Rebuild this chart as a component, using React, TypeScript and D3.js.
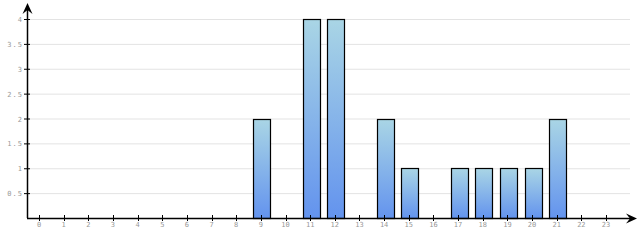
import React from "react";
import * as d3 from "d3";

const categories = Array.from({ length: 24 }, (_, i) => String(i));
const values = [0, 0, 0, 0, 0, 0, 0, 0, 0, 2, 0, 4, 4, 0, 2, 1, 0, 1, 1, 1, 1, 2, 0, 0];
const yTicks = [0.5, 1, 1.5, 2, 2.5, 3, 3.5, 4];

export default function App() {
  const W = 640, H = 240;
  const x0 = 27, y0 = 218;
  const x = d3.scaleLinear().domain([0, 23]).range([39, 606]);
  const y = d3.scaleLinear().domain([0, 4]).range([y0, 19]);
  const bw = 17;
  const fmt = (v: number) => String(v);
  return (
    <svg width={W} height={H} style={{ position: "absolute", left: 0, top: 0 }}>
      <defs>
        <linearGradient id="g" x1="0" y1="0" x2="0" y2="1">
          <stop offset="0" stopColor="#a9d5e5" />
          <stop offset="1" stopColor="#6393ee" />
        </linearGradient>
      </defs>
      {yTicks.map((t) => (
        <line key={"g" + t} x1={x0} x2={630} y1={y(t) + 0.5} y2={y(t) + 0.5} stroke="#e3e3e3" strokeWidth={1} />
      ))}
      {values.map((v, i) =>
        v > 0 ? (
          <rect key={"b" + i} x={Math.round(x(i) - bw / 2) + 1.5} y={Math.round(y(v)) + 0.5} width={bw} height={y0 - Math.round(y(v))} fill="url(#g)" stroke="#000" strokeWidth={1.2} />
        ) : null
      )}
      <line x1={x0 + 0.5} x2={x0 + 0.5} y1={y0} y2={8} stroke="#000" strokeWidth={1.5} />
      <line x1={x0} x2={630} y1={y0 + 0.5} y2={y0 + 0.5} stroke="#000" strokeWidth={1.5} />
      <path d={`M${x0 + 0.5},3 L${x0 - 4.5},14 L${x0 + 0.5},10 L${x0 + 5.5},14 Z`} fill="#000" />
      <path d={`M637,${y0 + 0.5} L626,${y0 - 4.5} L630,${y0 + 0.5} L626,${y0 + 5.5} Z`} fill="#000" />
      {yTicks.map((t) => (
        <g key={"yt" + t}>
          <line x1={x0 - 3} x2={x0 + 3} y1={y(t) + 0.5} y2={y(t) + 0.5} stroke="#000" strokeWidth={1} />
          <text x={x0 - 4} y={y(t) + 3} textAnchor="end" fontSize={7} fill="#999" fontFamily="DejaVu Sans Mono" letterSpacing={1}>
            {fmt(t)}
          </text>
        </g>
      ))}
      {categories.map((c, i) => (
        <g key={"xt" + i}>
          <line x1={Math.round(x(i)) + 0.5} x2={Math.round(x(i)) + 0.5} y1={y0 - 3} y2={y0 + 3} stroke="#000" strokeWidth={1} />
          <text x={x(i)} y={y0 + 9} textAnchor="middle" fontSize={7} fill="#999" fontFamily="DejaVu Sans Mono">
            {c}
          </text>
        </g>
      ))}
    </svg>
  );
}
